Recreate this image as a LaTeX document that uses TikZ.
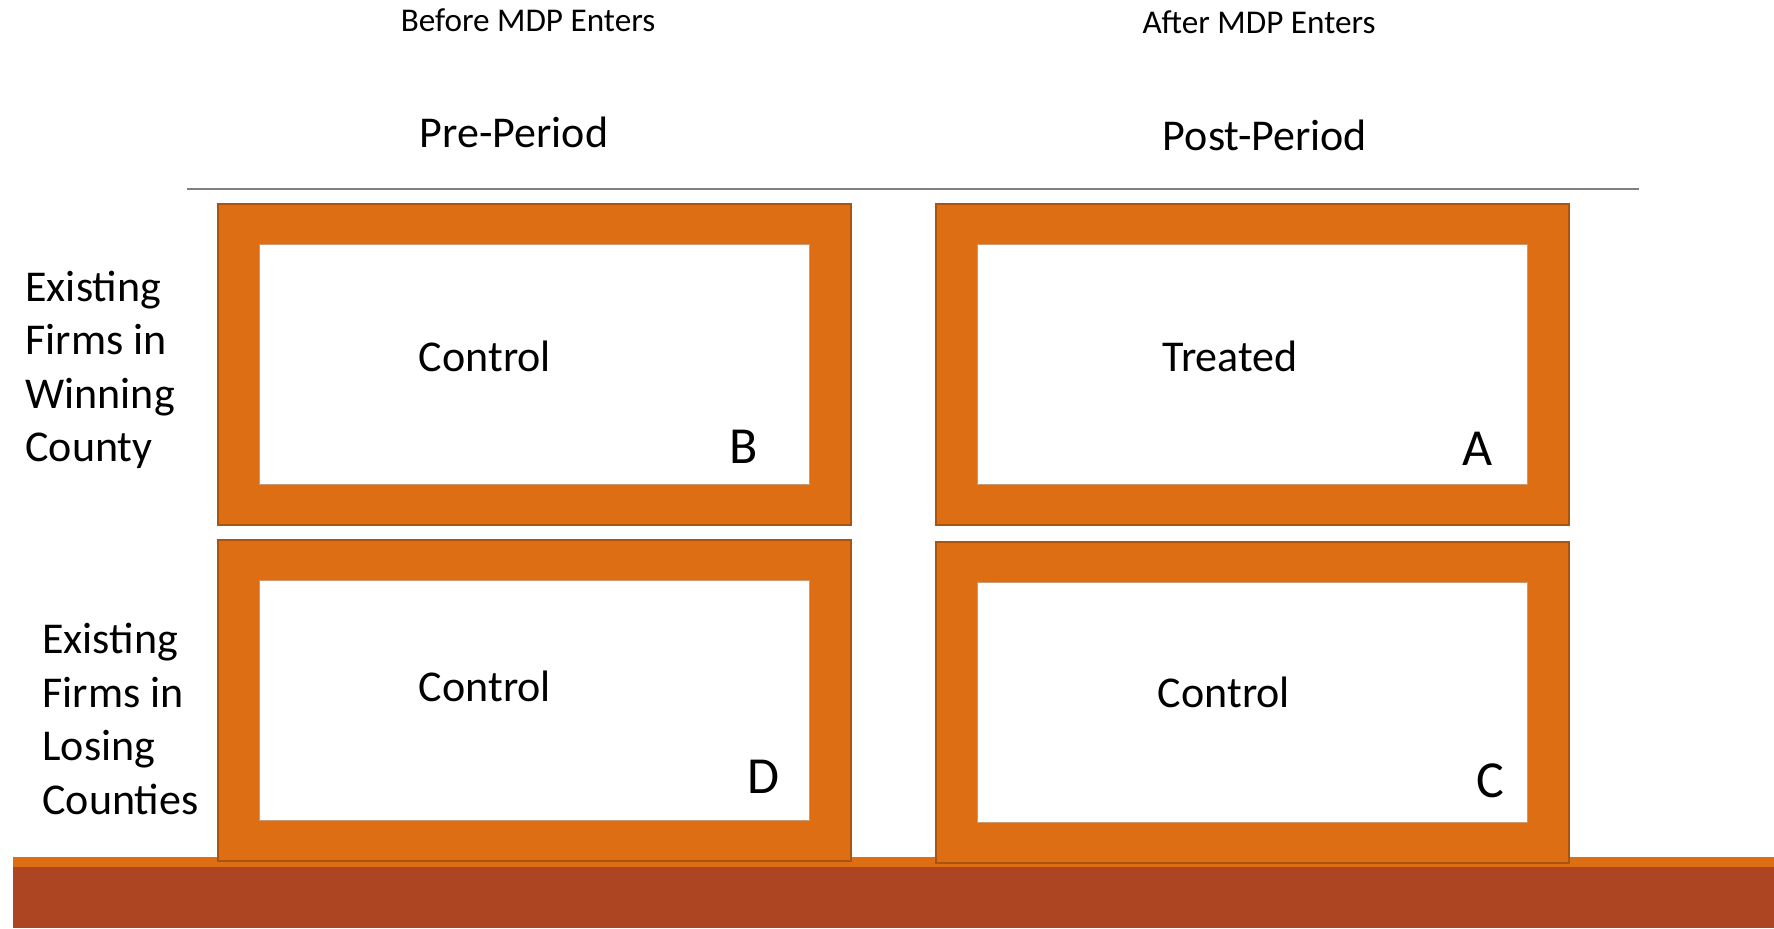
\documentclass[tikz,border=0pt]{standalone}
\usepackage{fontspec}
\setmainfont{Carlito}
\usepackage{xcolor}
\usetikzlibrary{positioning,calc}

\definecolor{cellorange}{HTML}{DD6E13}
\definecolor{celledge}{HTML}{A9550F}
\definecolor{bandred}{HTML}{AD4522}
\definecolor{rulegray}{HTML}{808080}

\begin{document}
\begin{tikzpicture}[
  x=0.5pt, y=-0.5pt,
  outerbox/.style={draw=celledge, line width=0.6pt, fill=cellorange,
                   minimum width=316.5pt, minimum height=160.5pt, inner sep=0pt},
  innerbox/.style={draw=celledge!60, line width=0.5pt, fill=white,
                   minimum width=275pt, minimum height=120pt, inner sep=0pt},
  celltext/.style={font=\fontsize{22}{26}\selectfont, inner sep=0pt},
  cornerlbl/.style={font=\fontsize{26}{30}\selectfont, inner sep=0pt},
  rowlbl/.style={font=\fontsize{22}{26.7}\selectfont, align=left,
                 anchor=west, inner sep=0pt},
  colhead/.style={font=\fontsize{22}{26}\selectfont, inner sep=0pt},
  tophead/.style={font=\fontsize{16.6}{20}\selectfont, inner sep=0pt}
]
\useasboundingbox (0,0) rectangle (1774,928);

% bottom band
\fill[cellorange] (13,857) rectangle (1774,867);
\fill[bandred] (13,867) rectangle (1774,928);

% column headings
\node[tophead] (before) at (528,20) {Before MDP Enters};
\node[tophead] (after) at (1259,22) {After MDP Enters};
\node[colhead] (pre) at (514,132) {Pre-Period};
\node[colhead] (post) at (1265,135) {Post-Period};

\coordinate (ruleL) at (187,189);
\coordinate (ruleR) at (1639,189);
\draw[rulegray, line width=1pt] (ruleL) -- (ruleR);

% row labels
\node[rowlbl] (win) at (25,370) {Existing\\Firms in\\Winning\\County};
\node[rowlbl] (lose) at (42,719) {Existing\\Firms in\\Losing\\Counties};

% cells
\node[outerbox] (prewin) at (534.5,364.5) {};
\node[innerbox] (prewin-in) at (prewin.center) {};
\node[outerbox] (postwin) at (1252.5,364.5) {};
\node[innerbox] (postwin-in) at (postwin.center) {};
\node[outerbox] (prelose) at (534.5,700.5) {};
\node[innerbox] (prelose-in) at (prelose.center) {};
\node[outerbox] (postlose) at (1252.5,702.5) {};
\node[innerbox] (postlose-in) at (postlose.center) {};

% cell texts
\node[celltext] (ctlB) at (485,356) {Control};
\node[celltext] (trtA) at (1230,356) {Treated};
\node[celltext] (ctlD) at (485,686) {Control};
\node[celltext] (ctlC) at (1224,692) {Control};

\node[cornerlbl] (B) at (744,447) {B};
\node[cornerlbl] (A) at (1478,449) {A};
\node[cornerlbl] (D) at (763,777) {D};
\node[cornerlbl] (C) at (1490,781) {C};
\end{tikzpicture}
\end{document}
